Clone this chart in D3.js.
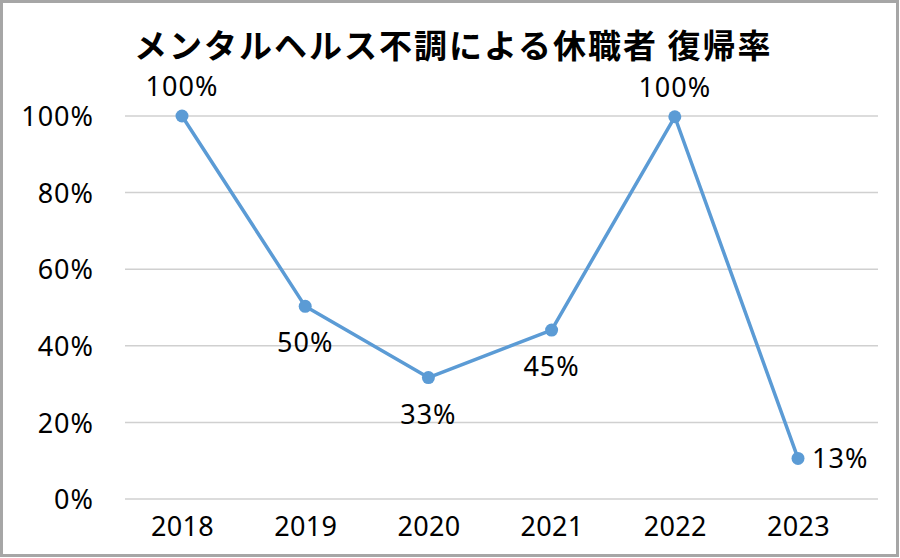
<!DOCTYPE html>
<html>
<head>
<meta charset="utf-8">
<script src="https://cdn.jsdelivr.net/npm/d3@7"></script>
<style>
  body { margin: 0; background: #fff; }
  text { font-family: "Noto Sans", "Noto Sans CJK JP", sans-serif; fill: #000; }
</style>
</head>
<body>
<script>
// data
const years = ["2018", "2019", "2020", "2021", "2022", "2023"];
const rates = [1.0, 0.503, 0.317, 0.441, 0.998, 0.106];
const rateLabels = ["100%", "50%", "33%", "45%", "100%", "13%"];
const labelSide = ["above", "below", "below", "below", "above", "right"];
const yTicks = [0, 0.2, 0.4, 0.6, 0.8, 1.0];

const W = 900, H = 558;
const COLOR = "#5b9bd5";

const svg = d3.select("body").append("svg")
  .attr("width", W)
  .attr("height", H);

// outer frame
svg.append("rect")
  .attr("x", 1.5).attr("y", 1.5)
  .attr("width", 896).attr("height", 554)
  .attr("fill", "#fff")
  .attr("stroke", "#a6a6a6")
  .attr("stroke-width", 3);

const x = d3.scalePoint().domain(years).range([182, 798]);
const y = d3.scaleLinear().domain([0, 1]).range([499, 116]);

// gridlines
svg.append("g")
  .selectAll("line")
  .data(yTicks)
  .join("line")
  .attr("x1", 125).attr("x2", 878)
  .attr("y1", d => y(d)).attr("y2", d => y(d))
  .attr("stroke", "#d0d0d0")
  .attr("stroke-width", 1.5);

// y axis labels
const yAxis = svg.append("g")
  .attr("transform", "translate(94,0)")
  .call(d3.axisLeft(y).tickValues(yTicks).tickFormat(d3.format(".0%")).tickSize(0).tickPadding(0));
yAxis.select(".domain").remove();
yAxis.selectAll("text")
  .style("font-family", "'Noto Sans', sans-serif")
  .style("font-size", "27px")
  .style("letter-spacing", "1px")
  .attr("dy", "0.36em");

// x axis labels
const xAxis = svg.append("g")
  .attr("transform", "translate(0,499)")
  .call(d3.axisBottom(x).tickSize(0).tickPadding(0));
xAxis.select(".domain").remove();
xAxis.selectAll("text")
  .style("font-family", "'Noto Sans', sans-serif")
  .style("font-size", "27px")
  .style("letter-spacing", "0.3px")
  .attr("dy", "1.38em");

// line
const line = d3.line()
  .x((d, i) => x(years[i]))
  .y(d => y(d));

svg.append("path")
  .datum(rates)
  .attr("d", line)
  .attr("fill", "none")
  .attr("stroke", COLOR)
  .attr("stroke-width", 3.5)
  .attr("stroke-linejoin", "round");

svg.append("g")
  .selectAll("circle")
  .data(rates)
  .join("circle")
  .attr("cx", (d, i) => x(years[i]))
  .attr("cy", d => y(d))
  .attr("r", 6.5)
  .attr("fill", COLOR);

// data labels
svg.append("g")
  .selectAll("text")
  .data(rates)
  .join("text")
  .attr("x", (d, i) => labelSide[i] == "right" ? x(years[i]) + 14 : x(years[i]))
  .attr("y", (d, i) => {
    if (labelSide[i] == "above") return y(d) - 20;
    if (labelSide[i] == "below") return y(d) + 46;
    return y(d) + 10;
  })
  .attr("text-anchor", (d, i) => labelSide[i] == "right" ? "start" : "middle")
  .style("font-size", "27px")
  .style("letter-spacing", "1px")
  .text((d, i) => rateLabels[i]);

// title
svg.append("text")
  .attr("x", 134)
  .attr("y", 58)
  .style("font-family", "'Noto Sans CJK JP', sans-serif")
  .style("font-weight", "700")
  .style("font-size", "33px")
  .style("letter-spacing", "2px")
  .text("メンタルヘルス不調による休職者 復帰率");
</script>
</body>
</html>
